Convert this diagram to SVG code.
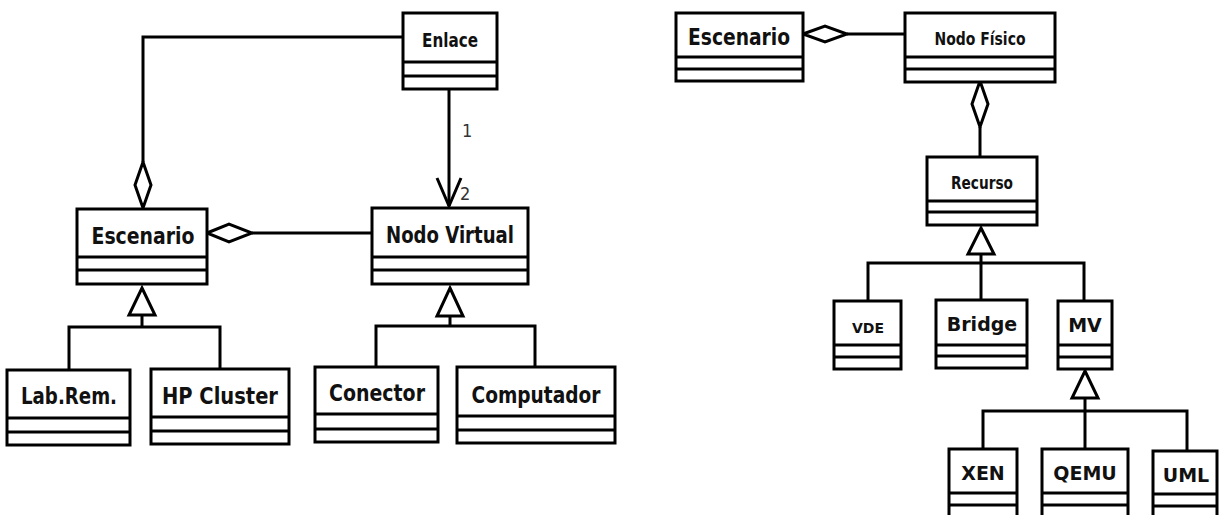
<svg xmlns="http://www.w3.org/2000/svg" width="1219" height="515" viewBox="0 0 1219 515">
<style>
.box{fill:#fff;stroke:#000;stroke-width:3}
.sep{stroke:#000;stroke-width:3}
.ln{fill:none;stroke:#000;stroke-width:3}
.dia{fill:#fff;stroke:#000;stroke-width:3;stroke-linejoin:miter}
.tc{font-family:"DejaVu Sans Condensed","DejaVu Sans",sans-serif;font-weight:bold;text-anchor:middle;fill:#111}
.tb{font-family:"DejaVu Sans",sans-serif;font-weight:bold;text-anchor:middle;fill:#111}
.lbl{font-family:"DejaVu Sans Condensed","DejaVu Sans",sans-serif;font-size:18px;fill:#333}
</style>
<rect width="1219" height="515" fill="#fff"/>
<g id="connectors">
  <!-- Enlace to Escenario (aggregation) -->
  <polyline class="ln" points="403,37 143,37 143,162"/>
  <polygon class="dia" points="143,162 151,185 143,208 135,185"/>
  <!-- Enlace to Nodo Virtual -->
  <line class="ln" x1="449" y1="89" x2="449" y2="206"/>
  <polyline class="ln" points="437,178 449,206 461,178"/>
  <text class="lbl" x="462" y="137">1</text>
  <text class="lbl" x="460" y="200">2</text>
  <!-- Escenario - Nodo Virtual aggregation -->
  <line class="ln" x1="252" y1="233" x2="372" y2="233"/>
  <polygon class="dia" points="207,233 229,224 252,233 229,242"/>
  <!-- Escenario generalization -->
  <polyline class="ln" points="69,370 69,327 220,327 220,369"/>
  <line class="ln" x1="142" y1="315" x2="142" y2="327"/>
  <polygon class="dia" points="142,288 155,315 129,315"/>
  <!-- Nodo Virtual generalization -->
  <polyline class="ln" points="376,367 376,326 535,326 535,367"/>
  <line class="ln" x1="450" y1="316" x2="450" y2="326"/>
  <polygon class="dia" points="450,288 463,316 437,316"/>
  <!-- Right: Escenario - Nodo Fisico -->
  <line class="ln" x1="847" y1="34" x2="905" y2="34"/>
  <polygon class="dia" points="803,34 825,26 847,34 825,42"/>
  <!-- Nodo Fisico - Recurso -->
  <line class="ln" x1="980" y1="127" x2="980" y2="157"/>
  <polygon class="dia" points="980,81 988,104 980,127 972,104"/>
  <!-- Recurso generalization -->
  <polyline class="ln" points="868,301 868,263 1084,263 1084,301"/>
  <line class="ln" x1="981" y1="254" x2="981" y2="300"/>
  <polygon class="dia" points="981,228 994,254 968,254"/>
  <!-- MV generalization -->
  <polyline class="ln" points="983,449 983,411 1187,411 1187,451"/>
  <line class="ln" x1="1085" y1="398" x2="1085" y2="449"/>
  <polygon class="dia" points="1085,371 1098,398 1072,398"/>
</g>
<g id="enlace">
  <rect class="box" x="403" y="13" width="94" height="76"/>
  <line class="sep" x1="403" y1="62" x2="497" y2="62"/>
  <line class="sep" x1="403" y1="76" x2="497" y2="76"/>
  <text class="tc" x="450" y="47" font-size="19" textLength="56" lengthAdjust="spacingAndGlyphs">Enlace</text>
</g>
<g id="escenario-left">
  <rect class="box" x="77" y="209" width="130" height="75"/>
  <line class="sep" x1="77" y1="257" x2="207" y2="257"/>
  <line class="sep" x1="77" y1="270" x2="207" y2="270"/>
  <text class="tc" x="143" y="244" font-size="23" textLength="103" lengthAdjust="spacingAndGlyphs">Escenario</text>
</g>
<g id="nodo-virtual">
  <rect class="box" x="372" y="208" width="156" height="76"/>
  <line class="sep" x1="372" y1="257" x2="528" y2="257"/>
  <line class="sep" x1="372" y1="270" x2="528" y2="270"/>
  <text class="tc" x="450" y="243" font-size="23" textLength="128" lengthAdjust="spacingAndGlyphs">Nodo Virtual</text>
</g>
<g id="lab-rem">
  <rect class="box" x="7" y="370" width="123" height="75"/>
  <line class="sep" x1="7" y1="418" x2="130" y2="418"/>
  <line class="sep" x1="7" y1="432" x2="130" y2="432"/>
  <text class="tc" x="69" y="404" font-size="23" textLength="96" lengthAdjust="spacingAndGlyphs">Lab.Rem.</text>
</g>
<g id="hp-cluster">
  <rect class="box" x="151" y="369" width="138" height="75"/>
  <line class="sep" x1="151" y1="417" x2="289" y2="417"/>
  <line class="sep" x1="151" y1="431" x2="289" y2="431"/>
  <text class="tc" x="220" y="404" font-size="23" textLength="116" lengthAdjust="spacingAndGlyphs">HP Cluster</text>
</g>
<g id="conector">
  <rect class="box" x="315" y="367" width="123" height="75"/>
  <line class="sep" x1="315" y1="414" x2="438" y2="414"/>
  <line class="sep" x1="315" y1="429" x2="438" y2="429"/>
  <text class="tc" x="377" y="401" font-size="23" textLength="96" lengthAdjust="spacingAndGlyphs">Conector</text>
</g>
<g id="computador">
  <rect class="box" x="457" y="367" width="158" height="76"/>
  <line class="sep" x1="457" y1="416" x2="615" y2="416"/>
  <line class="sep" x1="457" y1="430" x2="615" y2="430"/>
  <text class="tc" x="536" y="403" font-size="23" textLength="129" lengthAdjust="spacingAndGlyphs">Computador</text>
</g>
<g id="escenario-right">
  <rect class="box" x="676" y="13" width="127" height="68"/>
  <line class="sep" x1="676" y1="57" x2="803" y2="57"/>
  <line class="sep" x1="676" y1="69" x2="803" y2="69"/>
  <text class="tc" x="739" y="45" font-size="23" textLength="102" lengthAdjust="spacingAndGlyphs">Escenario</text>
</g>
<g id="nodo-fisico">
  <rect class="box" x="905" y="13" width="150" height="69"/>
  <line class="sep" x1="905" y1="57" x2="1055" y2="57"/>
  <line class="sep" x1="905" y1="69" x2="1055" y2="69"/>
  <text class="tc" x="980" y="45" font-size="17" textLength="91" lengthAdjust="spacingAndGlyphs">Nodo Físico</text>
</g>
<g id="recurso">
  <rect class="box" x="927" y="157" width="110" height="68"/>
  <line class="sep" x1="927" y1="201" x2="1037" y2="201"/>
  <line class="sep" x1="927" y1="212" x2="1037" y2="212"/>
  <text class="tc" x="982" y="189" font-size="17" textLength="62" lengthAdjust="spacingAndGlyphs">Recurso</text>
</g>
<g id="vde">
  <rect class="box" x="834" y="301" width="67" height="68"/>
  <line class="sep" x1="834" y1="345" x2="901" y2="345"/>
  <line class="sep" x1="834" y1="357" x2="901" y2="357"/>
  <text class="tb" x="868" y="333" font-size="14">VDE</text>
</g>
<g id="bridge">
  <rect class="box" x="936" y="300" width="91" height="68"/>
  <line class="sep" x1="936" y1="345" x2="1027" y2="345"/>
  <line class="sep" x1="936" y1="356" x2="1027" y2="356"/>
  <text class="tb" x="982" y="331" font-size="19">Bridge</text>
</g>
<g id="mv">
  <rect class="box" x="1058" y="301" width="54" height="68"/>
  <line class="sep" x1="1058" y1="345" x2="1112" y2="345"/>
  <line class="sep" x1="1058" y1="357" x2="1112" y2="357"/>
  <text class="tb" x="1085" y="332" font-size="19">MV</text>
</g>
<g id="xen">
  <rect class="box" x="949" y="449" width="68" height="72"/>
  <line class="sep" x1="949" y1="493" x2="1017" y2="493"/>
  <line class="sep" x1="949" y1="505" x2="1017" y2="505"/>
  <text class="tb" x="983" y="480" font-size="19">XEN</text>
</g>
<g id="qemu">
  <rect class="box" x="1042" y="449" width="86" height="72"/>
  <line class="sep" x1="1042" y1="493" x2="1128" y2="493"/>
  <line class="sep" x1="1042" y1="505" x2="1128" y2="505"/>
  <text class="tb" x="1085" y="480" font-size="19">QEMU</text>
</g>
<g id="uml">
  <rect class="box" x="1153" y="451" width="64" height="72"/>
  <line class="sep" x1="1153" y1="494" x2="1217" y2="494"/>
  <line class="sep" x1="1153" y1="506" x2="1217" y2="506"/>
  <text class="tb" x="1186" y="482" font-size="19">UML</text>
</g>
</svg>
